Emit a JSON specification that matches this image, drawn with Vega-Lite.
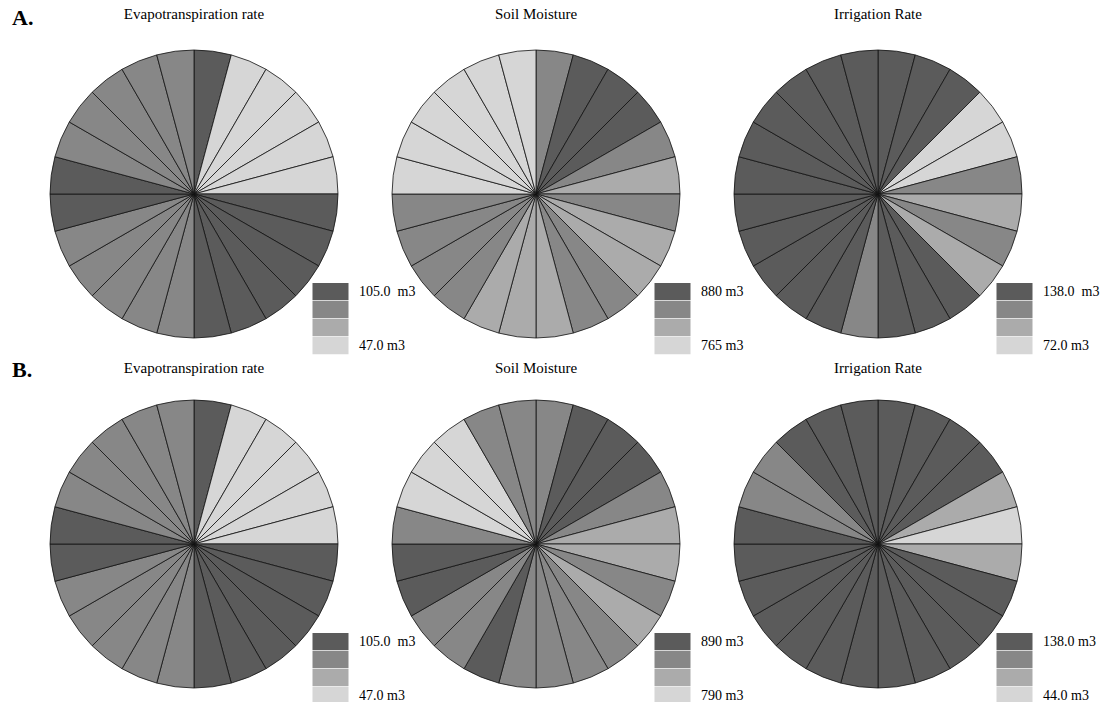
{
  "$schema": "https://vega.github.io/schema/vega-lite/v6.json",
  "background": "white",
  "padding": {"left": 12, "top": 7, "right": 5, "bottom": 5},
  "config": {
    "view": {"stroke": null},
    "font": "Liberation Serif",
    "title": {"font": "Liberation Serif", "fontSize": 15, "fontWeight": "normal", "color": "black", "offset": 26},
    "legend": {
      "orient": "none", "legendX": 262, "legendY": 233, "padding": 0,
      "symbolType": "M-1,-0.486H1V0.486H-1Z", "symbolSize": 1296, "symbolStrokeWidth": 0, "symbolStrokeColor": "transparent", "symbolOpacity": 1,
      "clipHeight": 17.5, "rowPadding": 0, "labelFont": "Liberation Serif", "labelFontSize": 14, "labelColor": "black", "labelOffset": 10, "labelLimit": 0
    },
    "arc": {"stroke": "#111111", "strokeWidth": 0.8}
  },
  "resolve": {"scale": {"color": "independent"}, "legend": {"color": "independent"}},
  "spacing": 4,
  "vconcat": [
    {
      "title": {"text": "A.", "anchor": "start", "frame": "group", "fontSize": 22, "fontWeight": "bold", "offset": -23, "dx": -38},
      "spacing": 54,
      "bounds": "flush",
      "resolve": {"scale": {"color": "independent"}, "legend": {"color": "independent"}},
      "hconcat": [
        {
          "title": "Evapotranspiration rate",
          "width": 288, "height": 288,
          "data": {"values": [
            {"sector": 1, "level": 1}, {"sector": 2, "level": 4}, {"sector": 3, "level": 4}, {"sector": 4, "level": 4},
            {"sector": 5, "level": 4}, {"sector": 6, "level": 4}, {"sector": 7, "level": 1}, {"sector": 8, "level": 1},
            {"sector": 9, "level": 1}, {"sector": 10, "level": 1}, {"sector": 11, "level": 1}, {"sector": 12, "level": 1},
            {"sector": 13, "level": 2}, {"sector": 14, "level": 2}, {"sector": 15, "level": 2}, {"sector": 16, "level": 2},
            {"sector": 17, "level": 2}, {"sector": 18, "level": 1}, {"sector": 19, "level": 1}, {"sector": 20, "level": 2},
            {"sector": 21, "level": 2}, {"sector": 22, "level": 2}, {"sector": 23, "level": 2}, {"sector": 24, "level": 2}
          ]},
          "mark": {"type": "arc"},
          "encoding": {
            "theta": {"aggregate": "count", "type": "quantitative"},
            "order": {"field": "sector", "type": "quantitative"},
            "color": {"field": "level", "type": "ordinal",
              "scale": {"domain": [1, 2, 3, 4], "range": ["#5b5b5b", "#878787", "#ababab", "#d6d6d6"]},
              "legend": {"title": null, "labelExpr": "datum.value == 1 ? '105.0\u00a0 m3' : datum.value == 4 ? '47.0 m3' : ''",
                "encode": {"symbols": {"enter": {"stroke": {"value": "transparent"}, "strokeWidth": {"value": 0}, "strokeOpacity": {"value": 0}}, "update": {"stroke": {"value": "transparent"}, "strokeWidth": {"value": 0}, "strokeOpacity": {"value": 0}}}}}}
          }
        },
        {
          "title": "Soil Moisture",
          "width": 288, "height": 288,
          "data": {"values": [
            {"sector": 1, "level": 2}, {"sector": 2, "level": 1}, {"sector": 3, "level": 1}, {"sector": 4, "level": 1},
            {"sector": 5, "level": 2}, {"sector": 6, "level": 3}, {"sector": 7, "level": 2}, {"sector": 8, "level": 3},
            {"sector": 9, "level": 3}, {"sector": 10, "level": 2}, {"sector": 11, "level": 2}, {"sector": 12, "level": 3},
            {"sector": 13, "level": 3}, {"sector": 14, "level": 3}, {"sector": 15, "level": 2}, {"sector": 16, "level": 2},
            {"sector": 17, "level": 2}, {"sector": 18, "level": 2}, {"sector": 19, "level": 4}, {"sector": 20, "level": 4},
            {"sector": 21, "level": 4}, {"sector": 22, "level": 4}, {"sector": 23, "level": 4}, {"sector": 24, "level": 4}
          ]},
          "mark": {"type": "arc"},
          "encoding": {
            "theta": {"aggregate": "count", "type": "quantitative"},
            "order": {"field": "sector", "type": "quantitative"},
            "color": {"field": "level", "type": "ordinal",
              "scale": {"domain": [1, 2, 3, 4], "range": ["#5b5b5b", "#878787", "#ababab", "#d6d6d6"]},
              "legend": {"title": null, "labelExpr": "datum.value == 1 ? '880 m3' : datum.value == 4 ? '765 m3' : ''",
                "encode": {"symbols": {"enter": {"stroke": {"value": "transparent"}, "strokeWidth": {"value": 0}, "strokeOpacity": {"value": 0}}, "update": {"stroke": {"value": "transparent"}, "strokeWidth": {"value": 0}, "strokeOpacity": {"value": 0}}}}}}
          }
        },
        {
          "title": "Irrigation Rate",
          "width": 288, "height": 288,
          "data": {"values": [
            {"sector": 1, "level": 1}, {"sector": 2, "level": 1}, {"sector": 3, "level": 1}, {"sector": 4, "level": 4},
            {"sector": 5, "level": 4}, {"sector": 6, "level": 2}, {"sector": 7, "level": 3}, {"sector": 8, "level": 2},
            {"sector": 9, "level": 3}, {"sector": 10, "level": 1}, {"sector": 11, "level": 1}, {"sector": 12, "level": 1},
            {"sector": 13, "level": 2}, {"sector": 14, "level": 1}, {"sector": 15, "level": 1}, {"sector": 16, "level": 1},
            {"sector": 17, "level": 1}, {"sector": 18, "level": 1}, {"sector": 19, "level": 1}, {"sector": 20, "level": 1},
            {"sector": 21, "level": 1}, {"sector": 22, "level": 1}, {"sector": 23, "level": 1}, {"sector": 24, "level": 1}
          ]},
          "mark": {"type": "arc"},
          "encoding": {
            "theta": {"aggregate": "count", "type": "quantitative"},
            "order": {"field": "sector", "type": "quantitative"},
            "color": {"field": "level", "type": "ordinal",
              "scale": {"domain": [1, 2, 3, 4], "range": ["#5b5b5b", "#878787", "#ababab", "#d6d6d6"]},
              "legend": {"title": null, "labelExpr": "datum.value == 1 ? '138.0\u00a0 m3' : datum.value == 4 ? '72.0 m3' : ''",
                "encode": {"symbols": {"enter": {"stroke": {"value": "transparent"}, "strokeWidth": {"value": 0}, "strokeOpacity": {"value": 0}}, "update": {"stroke": {"value": "transparent"}, "strokeWidth": {"value": 0}, "strokeOpacity": {"value": 0}}}}}}
          }
        }
      ]
    },
    {
      "title": {"text": "B.", "anchor": "start", "frame": "group", "fontSize": 22, "fontWeight": "bold", "offset": -21, "dx": -38},
      "spacing": 54,
      "bounds": "flush",
      "resolve": {"scale": {"color": "independent"}, "legend": {"color": "independent"}},
      "hconcat": [
        {
          "title": {"text": "Evapotranspiration rate", "offset": 22},
          "width": 288, "height": 288,
          "data": {"values": [
            {"sector": 1, "level": 1}, {"sector": 2, "level": 4}, {"sector": 3, "level": 4}, {"sector": 4, "level": 4},
            {"sector": 5, "level": 4}, {"sector": 6, "level": 4}, {"sector": 7, "level": 1}, {"sector": 8, "level": 1},
            {"sector": 9, "level": 1}, {"sector": 10, "level": 1}, {"sector": 11, "level": 1}, {"sector": 12, "level": 1},
            {"sector": 13, "level": 2}, {"sector": 14, "level": 2}, {"sector": 15, "level": 2}, {"sector": 16, "level": 2},
            {"sector": 17, "level": 2}, {"sector": 18, "level": 1}, {"sector": 19, "level": 1}, {"sector": 20, "level": 2},
            {"sector": 21, "level": 2}, {"sector": 22, "level": 2}, {"sector": 23, "level": 2}, {"sector": 24, "level": 2}
          ]},
          "mark": {"type": "arc"},
          "encoding": {
            "theta": {"aggregate": "count", "type": "quantitative"},
            "order": {"field": "sector", "type": "quantitative"},
            "color": {"field": "level", "type": "ordinal",
              "scale": {"domain": [1, 2, 3, 4], "range": ["#5b5b5b", "#878787", "#ababab", "#d6d6d6"]},
              "legend": {"title": null, "labelExpr": "datum.value == 1 ? '105.0\u00a0 m3' : datum.value == 4 ? '47.0 m3' : ''",
                "encode": {"symbols": {"enter": {"stroke": {"value": "transparent"}, "strokeWidth": {"value": 0}, "strokeOpacity": {"value": 0}}, "update": {"stroke": {"value": "transparent"}, "strokeWidth": {"value": 0}, "strokeOpacity": {"value": 0}}}}}}
          }
        },
        {
          "title": {"text": "Soil Moisture", "offset": 22},
          "width": 288, "height": 288,
          "data": {"values": [
            {"sector": 1, "level": 2}, {"sector": 2, "level": 1}, {"sector": 3, "level": 1}, {"sector": 4, "level": 1},
            {"sector": 5, "level": 2}, {"sector": 6, "level": 3}, {"sector": 7, "level": 3}, {"sector": 8, "level": 2},
            {"sector": 9, "level": 3}, {"sector": 10, "level": 2}, {"sector": 11, "level": 2}, {"sector": 12, "level": 2},
            {"sector": 13, "level": 2}, {"sector": 14, "level": 1}, {"sector": 15, "level": 2}, {"sector": 16, "level": 2},
            {"sector": 17, "level": 1}, {"sector": 18, "level": 1}, {"sector": 19, "level": 2}, {"sector": 20, "level": 4},
            {"sector": 21, "level": 4}, {"sector": 22, "level": 4}, {"sector": 23, "level": 2}, {"sector": 24, "level": 2}
          ]},
          "mark": {"type": "arc"},
          "encoding": {
            "theta": {"aggregate": "count", "type": "quantitative"},
            "order": {"field": "sector", "type": "quantitative"},
            "color": {"field": "level", "type": "ordinal",
              "scale": {"domain": [1, 2, 3, 4], "range": ["#5b5b5b", "#878787", "#ababab", "#d6d6d6"]},
              "legend": {"title": null, "labelExpr": "datum.value == 1 ? '890 m3' : datum.value == 4 ? '790 m3' : ''",
                "encode": {"symbols": {"enter": {"stroke": {"value": "transparent"}, "strokeWidth": {"value": 0}, "strokeOpacity": {"value": 0}}, "update": {"stroke": {"value": "transparent"}, "strokeWidth": {"value": 0}, "strokeOpacity": {"value": 0}}}}}}
          }
        },
        {
          "title": {"text": "Irrigation Rate", "offset": 22},
          "width": 288, "height": 288,
          "data": {"values": [
            {"sector": 1, "level": 1}, {"sector": 2, "level": 1}, {"sector": 3, "level": 1}, {"sector": 4, "level": 1},
            {"sector": 5, "level": 3}, {"sector": 6, "level": 4}, {"sector": 7, "level": 3}, {"sector": 8, "level": 1},
            {"sector": 9, "level": 1}, {"sector": 10, "level": 1}, {"sector": 11, "level": 1}, {"sector": 12, "level": 1},
            {"sector": 13, "level": 1}, {"sector": 14, "level": 1}, {"sector": 15, "level": 1}, {"sector": 16, "level": 1},
            {"sector": 17, "level": 1}, {"sector": 18, "level": 1}, {"sector": 19, "level": 1}, {"sector": 20, "level": 2},
            {"sector": 21, "level": 2}, {"sector": 22, "level": 1}, {"sector": 23, "level": 1}, {"sector": 24, "level": 1}
          ]},
          "mark": {"type": "arc"},
          "encoding": {
            "theta": {"aggregate": "count", "type": "quantitative"},
            "order": {"field": "sector", "type": "quantitative"},
            "color": {"field": "level", "type": "ordinal",
              "scale": {"domain": [1, 2, 3, 4], "range": ["#5b5b5b", "#878787", "#ababab", "#d6d6d6"]},
              "legend": {"title": null, "labelExpr": "datum.value == 1 ? '138.0 m3' : datum.value == 4 ? '44.0 m3' : ''",
                "encode": {"symbols": {"enter": {"stroke": {"value": "transparent"}, "strokeWidth": {"value": 0}, "strokeOpacity": {"value": 0}}, "update": {"stroke": {"value": "transparent"}, "strokeWidth": {"value": 0}, "strokeOpacity": {"value": 0}}}}}}
          }
        }
      ]
    }
  ]
}
